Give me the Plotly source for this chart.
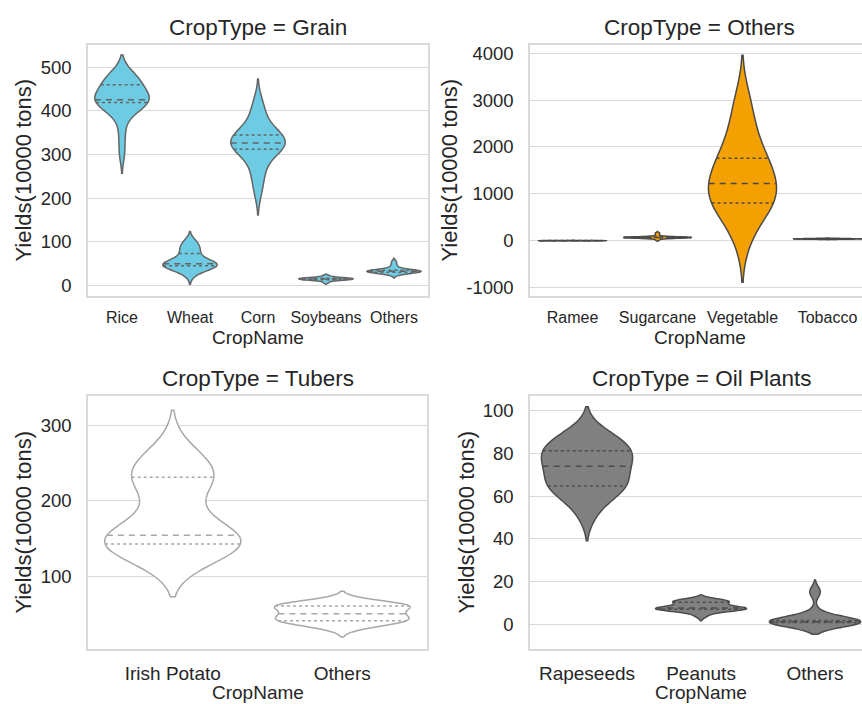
import numpy as np
import plotly.graph_objects as go

W, H = 862, 704

# ---------------- data (Yields, 10000 tons) ----------------
grain_names = ["Rice", "Wheat", "Corn", "Soybeans", "Others"]
grain_rice = [305, 350, 390, 405, 418, 420, 421, 422, 424, 425, 427, 430, 437, 445, 458, 466, 470, 474, 478, 481]
grain_wheat = [26, 35, 40, 43, 45, 46, 47, 48, 49, 50, 50, 52, 55, 60, 73, 76, 82, 90, 96, 101]
grain_corn = [215, 245, 265, 285, 310, 313, 315, 318, 322, 325, 329, 332, 336, 340, 344, 348, 360, 380, 400, 420]
grain_soybeans = [7, 11, 12, 13, 13, 14, 14, 15, 15, 15, 16, 16, 16, 17, 17, 18, 18, 19, 20, 23]
grain_others = [25, 28, 29, 30, 31, 31, 32, 32, 33, 33, 33, 34, 34, 35, 35, 36, 38, 42, 48, 55]

others_names = ["Ramee", "Sugarcane", "Vegetable", "Tobacco"]
others_ramee = [0.5, 1, 1.2, 1.5, 1.8, 2, 2.1, 2.3, 2.5, 2.8, 3, 3.2, 3.5, 3.8, 4, 4.5, 5, 5.5, 6, 7]
others_sugarcane = [20, 60, 64, 66, 67, 68, 68, 69, 69, 70, 70, 71, 71, 72, 73, 74, 76, 80, 130, 165]
others_vegetable = [20, 450, 700, 780, 804, 950, 1050, 1150, 1220, 1400, 1550, 1700, 1759, 2000, 2300, 2650, 3050]
others_tobacco = [30, 33, 35, 36, 37, 38, 39, 40, 40, 41, 42, 43, 44, 45, 46, 48, 50, 52]

tubers_names = ["Irish Potato", "Others"]
tubers_potato = [125, 134, 138, 141, 142, 143, 146, 150, 152, 153.5, 155, 175, 205, 220, 230, 235, 238, 242, 252, 268]
tubers_others = [31, 36, 38, 40, 40.5, 41, 43, 46, 48, 49.5, 50.5, 53, 57, 59, 60, 61, 62, 62.5, 64, 68]

oil_names = ["Rapeseeds", "Peanuts", "Others"]
oil_rapeseeds = [51, 58, 61, 63, 64, 65, 67, 69, 71, 73, 75, 77, 78, 80, 81, 82, 84, 86, 88, 90]
oil_peanuts = [4, 5.5, 6.5, 7, 7.1, 7.2, 7.3, 7.4, 7.5, 7.6, 7.8, 8, 8.5, 9.5, 10.4, 10.6, 10.8, 11, 11.2, 11.5]
oil_others = [0.3, 0.5, 0.6, 0.8, 0.9, 1.0, 1.0, 1.1, 1.2, 1.2, 1.3, 1.4, 1.5, 1.6, 1.8, 2.2, 3, 6, 14.5, 16]

grain_yticks = [0, 100, 200, 300, 400, 500]
others_yticks = [-1000, 0, 1000, 2000, 3000, 4000]
tubers_yticks = [100, 200, 300]
oil_yticks = [0, 20, 40, 60, 80, 100]

# ---------------- styling / layout ----------------
FONT = "Liberation Sans, Arial, sans-serif"
TXT = "#262626"
GRID = "#dadada"

panels = [
    dict(title="CropType = Grain", names=grain_names,
         data=[grain_rice, grain_wheat, grain_corn, grain_soybeans, grain_others],
         fill="#6DCBE3", edge="#656565", yticks=grain_yticks,
         px=(88, 428), py=(43, 296), xr=(-0.5, 4.5), yr=(-24.4, 551.7),
         tickfs=16, right=False),
    dict(title="CropType = Others", names=others_names,
         data=[others_ramee, others_sugarcane, others_vegetable, others_tobacco],
         fill="#F4A000", edge="#4a4a4a", yticks=others_yticks,
         px=(530, 862), py=(43, 296), xr=(-0.5, 3.406), yr=(-1184, 4178),
         tickfs=16, right=True),
    dict(title="CropType = Tubers", names=tubers_names,
         data=[tubers_potato, tubers_others],
         fill="#FFFFFF", edge="#a8a8a8", yticks=tubers_yticks,
         px=(88, 427), py=(396, 651), xr=(-0.5, 1.5), yr=(2.9, 339.6),
         tickfs=19, right=False),
    dict(title="CropType = Oil Plants", names=oil_names,
         data=[oil_rapeseeds, oil_peanuts, oil_others],
         fill="#808080", edge="#4c4c4c", yticks=oil_yticks,
         px=(530, 862), py=(396, 651), xr=(-0.5, 2.412), yr=(-11.6, 107),
         tickfs=19, right=True),
]


def scott_bw(v):
    v = np.asarray(v, float)
    return v.std(ddof=1) * len(v) ** (-1 / 5)


def kde(v, bw, x):
    v = np.asarray(v, float)
    x = np.atleast_1d(np.asarray(x, float))
    z = (x[:, None] - v[None, :]) / bw
    return np.exp(-0.5 * z ** 2).sum(1) / (len(v) * bw * np.sqrt(2 * np.pi))


def max_kde(v, bw):
    lo, hi = min(v) - 2 * bw, max(v) + 2 * bw
    n = int(np.ceil((hi - lo) / (bw / 3)))
    t = lo + np.arange(n + 1) * (hi - lo) / n
    return kde(v, bw, t).max()


fig = go.Figure()
layout = dict(width=W, height=H, margin=dict(l=0, r=0, t=0, b=0),
              paper_bgcolor="white", plot_bgcolor="white", showlegend=False,
              violinmode="overlay", violingap=0.2, violingroupgap=0,
              font=dict(family=FONT, color=TXT))
annotations = []
HALF = 0.4

for k, p in enumerate(panels):
    sfx = "" if k == 0 else str(k + 1)
    xa, ya = "x" + sfx, "y" + sfx
    for i, (nm, vals) in enumerate(zip(p["names"], p["data"])):
        bw = scott_bw(vals)
        fig.add_trace(go.Violin(
            y=vals, x0=i, name=f"{p['title']}|{nm}", scalegroup=f"{k}-{i}",
            scalemode="width", bandwidth=bw, spanmode="soft", points=False,
            fillcolor=p["fill"], line=dict(color=p["edge"], width=1.5),
            box_visible=False, meanline_visible=False, hoverinfo="skip",
            opacity=1, xaxis=xa, yaxis=ya))
        mk = max_kde(vals, bw)
        q1, q2, q3 = np.percentile(vals, [25, 50, 75])
        for q, dash in [(q1, "3px,3px"), (q2, "6px,5px"), (q3, "3px,3px")]:
            hw = float(kde(vals, bw, q)[0] / mk * HALF)
            fig.add_trace(go.Scatter(
                x=[i - hw, i + hw], y=[q, q], mode="lines",
                line=dict(color=p["edge"], width=1.5, dash=dash),
                hoverinfo="skip", xaxis=xa, yaxis=ya))
    x0, x1 = p["px"]
    y0, y1 = p["py"]
    layout["xaxis" + sfx] = dict(
        domain=[x0 / W, x1 / W], anchor=ya, range=list(p["xr"]),
        tickmode="array", tickvals=list(range(len(p["names"]))), ticktext=p["names"],
        tickfont=dict(size=p["tickfs"], color=TXT, family=FONT),
        showgrid=False, zeroline=False, showline=True, linecolor=GRID,
        linewidth=1.5, mirror=True, ticks="", ticklabelstandoff=6, fixedrange=True)
    layout["yaxis" + sfx] = dict(
        domain=[1 - y1 / H, 1 - y0 / H], anchor=xa, range=list(p["yr"]),
        tickmode="array", tickvals=p["yticks"], ticktext=[str(t) for t in p["yticks"]],
        tickfont=dict(size=18.5, color=TXT, family=FONT),
        showgrid=True, gridcolor=GRID, gridwidth=1.3, zeroline=False,
        showline=True, linecolor=GRID, linewidth=1.5,
        mirror=(not p["right"]), ticks="", ticklabelstandoff=11, fixedrange=True)
    cx = (x0 + (x0 + (x1 - x0) / (p["xr"][1] - p["xr"][0]) * (len(p["names"])))) / 2
    annotations.append(dict(text=p["title"], x=cx / W, y=1 - (y0 - 17) / H,
                            xref="paper", yref="paper", showarrow=False,
                            xanchor="center", yanchor="middle",
                            font=dict(size=22.5, color=TXT, family=FONT)))
    xt_y = y1 + (41 if k < 2 else 43)
    annotations.append(dict(text="CropName", x=cx / W, y=1 - xt_y / H,
                            xref="paper", yref="paper", showarrow=False,
                            xanchor="center", yanchor="middle",
                            font=dict(size=19, color=TXT, family=FONT)))
    ylx = {0: 24, 1: 450, 2: 24, 3: 467}[k]
    annotations.append(dict(text="Yields(10000 tons)", x=ylx / W, y=1 - ((y0 + y1) / 2) / H,
                            xref="paper", yref="paper", showarrow=False, textangle=-90,
                            xanchor="center", yanchor="middle",
                            font=dict(size=22, color=TXT, family=FONT)))

layout["annotations"] = annotations
fig.update_layout(**layout)
fig.write_html("out.html", config={"displayModeBar": False},
               post_script="document.body.style.margin='0';document.body.style.overflow='hidden';")
